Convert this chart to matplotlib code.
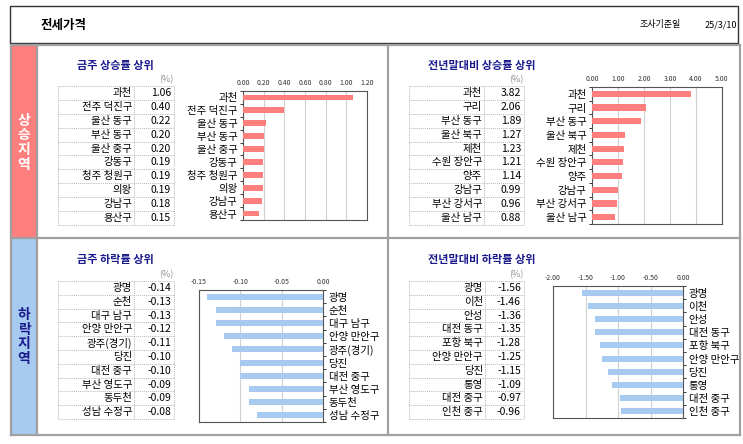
"""전세가격 상승/하락 상위 지역 대시보드."""

import matplotlib

matplotlib.use("Agg")
import matplotlib.pyplot as plt
from matplotlib.patches import Rectangle
from matplotlib.ticker import FixedLocator, FuncFormatter

plt.rcParams["font.family"] = ["Noto Sans CJK KR", "DejaVu Sans"]

W, H = 743, 444

week_up_names = ["과천", "전주 덕진구", "울산 동구", "부산 동구", "울산 중구",
                 "강동구", "청주 청원구", "의왕", "강남구", "용산구"]
week_up_vals = [1.06, 0.40, 0.22, 0.20, 0.20, 0.19, 0.19, 0.19, 0.18, 0.15]

year_up_names = ["과천", "구리", "부산 동구", "울산 북구", "제천",
                 "수원 장안구", "양주", "강남구", "부산 강서구", "울산 남구"]
year_up_vals = [3.82, 2.06, 1.89, 1.27, 1.23, 1.21, 1.14, 0.99, 0.96, 0.88]

week_down_names = ["광명", "순천", "대구 남구", "안양 만안구", "광주(경기)",
                   "당진", "대전 중구", "부산 영도구", "동두천", "성남 수정구"]
week_down_vals = [-0.14, -0.13, -0.13, -0.12, -0.11, -0.10, -0.10, -0.09, -0.09, -0.08]

year_down_names = ["광명", "이천", "안성", "대전 동구", "포항 북구",
                   "안양 만안구", "당진", "통영", "대전 중구", "인천 중구"]
year_down_vals = [-1.56, -1.46, -1.36, -1.35, -1.28, -1.25, -1.15, -1.09, -0.97, -0.96]

week_up_ticks = [0.0, 0.2, 0.4, 0.6, 0.8, 1.0, 1.2]
year_up_ticks = [0.0, 1.0, 2.0, 3.0, 4.0, 5.0]
week_down_ticks = [-0.15, -0.10, -0.05, 0.0]
year_down_ticks = [-2.0, -1.5, -1.0, -0.5, 0.0]

RED = "#FF7F7F"
BLUE = "#A6CAF0"
NAVY = "#1A1A8C"
GRAY = "#A0A0A0"


def fx(x):
    return x / W


def fy(y):
    return 1 - y / H


fig = plt.figure(figsize=(W / 100, H / 100), dpi=100)


def rect(x0, y0, x1, y1, **kw):
    fig.patches.append(Rectangle((fx(x0), fy(y1)), fx(x1) - fx(x0), fy(y0) - fy(y1),
                                 transform=fig.transFigure, **kw))


def line(xs, ys, **kw):
    fig.add_artist(plt.Line2D([fx(x) for x in xs], [fy(y) for y in ys],
                              transform=fig.transFigure, **kw))


# header
rect(10, 6, 738, 43, facecolor="white", edgecolor="#333333", linewidth=1.0)
fig.text(fx(41), fy(25), "전세가격", fontsize=9, fontweight="bold", va="center")
fig.text(fx(640), fy(25), "조사기준일", fontsize=6.5, va="center")
fig.text(fx(705), fy(25), "25/3/10", fontsize=6.5, va="center")

# side strips
rect(11, 45, 37, 238, facecolor=RED, edgecolor="none")
rect(11, 238, 37, 435, facecolor=BLUE, edgecolor="none")
for i, ch in enumerate("상승지역"):
    fig.text(fx(24), fy(121 + i * 14.5), ch, color="white", fontsize=10,
             fontweight="bold", ha="center", va="center")
for i, ch in enumerate("하락지역"):
    fig.text(fx(24), fy(315 + i * 14.5), ch, color=NAVY, fontsize=10,
             fontweight="bold", ha="center", va="center")

# frame lines
lw = 1.6
line([11, 740], [45, 45], color=GRAY, linewidth=lw)
line([11, 740], [238, 238], color=GRAY, linewidth=lw)
line([11, 740], [435, 435], color=GRAY, linewidth=lw)
line([11, 11], [45, 435], color=GRAY, linewidth=lw)
line([37, 37], [45, 435], color=GRAY, linewidth=lw)
line([388, 388], [45, 435], color=GRAY, linewidth=lw)
line([740, 740], [45, 435], color=GRAY, linewidth=lw)


def table(names, vals, x0, xm, x1, y0, y1, title, ty):
    fig.text(fx(x0 + 19), fy(ty), title, color=NAVY, fontsize=8,
             fontweight="bold", va="center")
    fig.text(fx(x1 - 1), fy(y0 - 6), "(%)", color="#909090", fontsize=6.5,
             ha="right", va="center")
    n = len(names)
    rh = (y1 - y0) / n
    dot = dict(color="#B8B8B8", linewidth=0.7, linestyle=(0, (1, 1)))
    for i in range(n + 1):
        line([x0, x1], [y0 + i * rh] * 2, **dot)
    for x in (x0, xm, x1):
        line([x, x], [y0, y1], **dot)
    for i, (name, v) in enumerate(zip(names, vals)):
        yc = y0 + (i + 0.5) * rh
        fig.text(fx(xm - 2), fy(yc), name, fontsize=7.5, ha="right", va="center")
        fig.text(fx(x1 - 3), fy(yc), f"{v:.2f}", fontsize=7.5, ha="right", va="center")


def chart(names, vals, ticks, color, x0, y0, x1, y1, right_labels):
    ax = fig.add_axes([fx(x0), fy(y1), fx(x1) - fx(x0), fy(y0) - fy(y1)])
    ys = list(range(len(names)))
    ax.barh(ys, vals, height=0.45, color=color, zorder=3)
    ax.set_xlim(ticks[0], ticks[-1])
    ax.set_ylim(len(names) - 0.5, -0.5)
    ax.xaxis.tick_top()
    ax.set_xticks(ticks)
    ax.xaxis.set_major_formatter(FuncFormatter(lambda v, p: f"{v:.2f}"))
    ax.tick_params(axis="x", length=0, labelsize=5, colors="#333333", pad=3)
    ax.grid(True, axis="x", color="#D0D0D0", linewidth=0.8, zorder=0)
    ax.set_yticks(ys)
    ax.set_yticklabels(names)
    ax.yaxis.set_minor_locator(FixedLocator([i - 0.5 for i in range(len(names) + 1)]))
    ax.tick_params(axis="y", which="major", length=0, labelsize=7.5, pad=4)
    ax.tick_params(axis="y", which="minor", length=2.5, width=0.7, color="#333333")
    if right_labels:
        ax.yaxis.tick_right()
        ax.yaxis.set_label_position("right")
    for s in ax.spines.values():
        s.set_color("#555555")
        s.set_linewidth(0.8)
    return ax


table(week_up_names, week_up_vals, 58, 134, 174, 86, 225, "금주 상승률 상위", 66)
chart(week_up_names, week_up_vals, week_up_ticks, RED, 243, 91, 367, 220, False)

table(year_up_names, year_up_vals, 409, 484, 524, 86, 225, "전년말대비 상승률 상위", 66)
chart(year_up_names, year_up_vals, year_up_ticks, RED, 592, 87, 722, 224, False)

table(week_down_names, week_down_vals, 58, 134, 174, 281, 419, "금주 하락률 상위", 260)
chart(week_down_names, week_down_vals, week_down_ticks, BLUE, 199, 290, 323, 422, True)

table(year_down_names, year_down_vals, 409, 485, 524, 281, 419, "전년말대비 하락률 상위", 260)
chart(year_down_names, year_down_vals, year_down_ticks, BLUE, 553, 286, 683, 418, True)

fig.savefig("out.png", dpi=100)
